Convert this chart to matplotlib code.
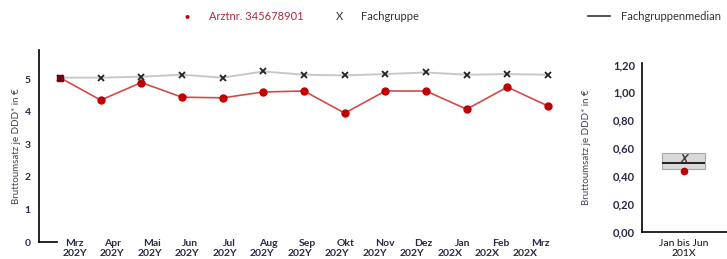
import matplotlib.pyplot as plt
from matplotlib.ticker import FuncFormatter
from matplotlib.transforms import ScaledTranslation

plt.rcParams['font.family'] = ['Lato', 'DejaVu Sans']

# monthly values
month_names = ["Mrz", "Apr", "Mai", "Jun", "Jul", "Aug", "Sep", "Okt", "Nov", "Dez",
               "Jan", "Feb", "Mrz"]
years = ["202Y"] * 10 + ["202X"] * 3
arzt = [5.05, 4.36, 4.90, 4.45, 4.43, 4.61, 4.64, 3.96, 4.64, 4.64, 4.08, 4.76, 4.18]
fach = [5.05, 5.05, 5.08, 5.14, 5.05, 5.24, 5.14, 5.12, 5.16, 5.21, 5.14, 5.16, 5.14]

# half-year summary
period = ["Jan bis Jun\n201X"]
box_low = [0.45]
box_high = [0.564]
median = [0.495]
fach_half = [0.53]
arzt_half = [0.435]

W, H = 727, 259
fig = plt.figure(figsize=(W / 100, H / 100), dpi=100)

red = "#c00000"
redline = "#d24b4b"
grey = "#c8c8c8"
navy = "#2a2a44"

# main chart
ax = fig.add_axes([39 / W, 1 - 242 / H, (560 - 39) / W, (242 - 50) / H])
xs = list(range(len(arzt)))
ax.plot(xs, fach, color=grey, lw=1.4, zorder=1)
ax.plot(xs, fach, ls="none", marker="x", ms=5, mew=1.3, color="#222222", zorder=3)
ax.plot(xs, arzt, color=redline, lw=1.2, zorder=2)
ax.plot(xs[1:], arzt[1:], ls="none", marker="o", ms=5, color=red, zorder=4)
ax.plot(xs[:1], arzt[:1], ls="none", marker="s", ms=5, color="#7a0010", zorder=5)

x0 = -21 * 12 / 488
ax.set_xlim(x0, 12 + 12 * 12 / 488)
ax.set_ylim(0, 5.9)
ax.set_xticks([])
ax.set_yticks(range(6))
ax.tick_params(axis="y", length=0, pad=6, labelsize=7.5, labelcolor=navy)
for lab in ax.get_yticklabels():
    lab.set_fontweight("bold")
for s in ["top", "right"]:
    ax.spines[s].set_visible(False)
ax.spines["left"].set_linewidth(1.2)
ax.spines["bottom"].set_linewidth(1.2)
ax.spines["bottom"].set_bounds(x0, -0.07)
ax.set_ylabel("Bruttoumsatz je DDD* in €", fontsize=7, color="#444455")
ax.yaxis.set_label_coords(-18 / 521, 0.5)

# two-line month labels, slightly drifting like the original
n = len(xs) - 1
for i in xs:
    dx_m = (14 - 22 * i / n) / 100
    dx_y = (14.5 - 37.5 * i / n) / 100
    tr = ax.get_xaxis_transform()
    ax.text(i, 0, month_names[i], ha="center", va="center", fontsize=7.5,
            fontweight="bold", color=navy,
            transform=tr + ScaledTranslation(dx_m, -0.02, fig.dpi_scale_trans))
    ax.text(i, 0, years[i], ha="center", va="center", fontsize=7.5,
            fontweight="bold", color=navy,
            transform=tr + ScaledTranslation(dx_y, -0.11, fig.dpi_scale_trans))

# half-year panel
ax2 = fig.add_axes([642 / W, 1 - 232 / H, (727 - 642) / W, (232 - 63) / H])
px = [0]
ax2.bar(px, [box_high[0] - box_low[0]], bottom=box_low, width=0.5,
        color="#d9d9d9", edgecolor="#a8a8a8", lw=0.8, zorder=1)
ax2.hlines(median, -0.25, 0.25, color="#222222", lw=1.4, zorder=2)
ax2.plot(px, fach_half, ls="none", marker="$X$", ms=6, mew=0.3, color="#333333", zorder=3)
ax2.plot(px, arzt_half, ls="none", marker="o", ms=4.5, color=red, zorder=4)
ax2.set_xlim(-0.49, 0.51)
ax2.set_ylim(0, 1.21)
ax2.set_yticks([0, 0.2, 0.4, 0.6, 0.8, 1.0, 1.2])
ax2.yaxis.set_major_formatter(FuncFormatter(lambda v, p: f"{v:.2f}".replace(".", ",")))
ax2.tick_params(axis="y", length=0, pad=5, labelsize=8, labelcolor=navy)
for lab in ax2.get_yticklabels():
    lab.set_fontweight("bold")
ax2.set_xticks(px)
ax2.set_xticklabels(period, fontsize=7.5, color="#111111", linespacing=1.1)
ax2.tick_params(axis="x", length=0, pad=5)
for s in ["top", "right"]:
    ax2.spines[s].set_visible(False)
ax2.spines["left"].set_linewidth(1.2)
ax2.spines["bottom"].set_linewidth(1.2)
ax2.set_ylabel("Bruttoumsatz je DDD* in €", fontsize=7, color="#444455")
ax2.yaxis.set_label_coords(-51 / 85, 0.5)

# legend row
ly = 1 - 16 / H
fig.text(187 / W, ly, "●", color=red, fontsize=6, ha="center", va="center")
fig.text(209 / W, ly, "Arztnr. 345678901", color="#b02a3a", fontsize=8, va="center")
fig.text(340 / W, ly, "X", color="#333333", fontsize=8, ha="center", va="center")
fig.text(361 / W, ly, "Fachgruppe", color="#333333", fontsize=8, va="center")
fig.add_artist(plt.Line2D([588 / W, 610 / W], [ly, ly], color="#333333", lw=1.2))
fig.text(621 / W, ly, "Fachgruppenmedian", color="#333333", fontsize=8, va="center")

fig.savefig("out.png", dpi=100)
